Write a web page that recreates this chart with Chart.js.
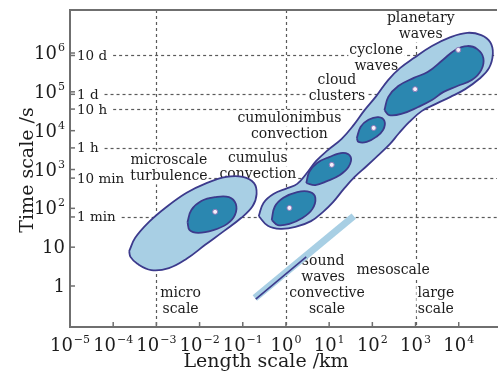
<!DOCTYPE html>
<html>
<head>
<meta charset="utf-8">
<script src="https://cdn.jsdelivr.net/npm/chart.js@4.4.1/dist/chart.umd.min.js"></script>
<style>
  html, body { margin: 0; padding: 0; background: #fff; }
  #wrap { width: 502px; height: 375px; }
</style>
</head>
<body>
<div id="wrap"><canvas id="c"></canvas></div>
<script>
// decades on each axis (powers of ten)
const lengthExps = [-5, -4, -3, -2, -1, 0, 1, 2, 3, 4]
const timeExps = [0, 1, 2, 3, 4, 5, 6]
const lengthRange = [-5, 4.886]   // log10 km
const timeRange = [-1.056, 7.108] // log10 s

// named time levels
const timeLabels = ['10 d', '1 d', '10 h', '1 h', '10 min', '1 min']
const timeSeconds = [864000, 86400, 36000, 3600, 600, 60]

// boundaries micro / convective / large scale (km)
const scaleDividers = [1e-3, 1, 1e3]

// region outlines, [log10 km, log10 s]
const microOuter = [
  [-3.63, 0.90], [-3.49, 1.24], [-3.17, 1.65], [-2.76, 2.04], [-2.30, 2.40], [-1.84, 2.65],
  [-1.38, 2.81], [-1.00, 2.81], [-0.74, 2.65], [-0.68, 2.37], [-0.77, 2.06], [-1.04, 1.75],
  [-1.43, 1.42], [-1.87, 1.06], [-2.30, 0.70], [-2.71, 0.46], [-3.12, 0.41], [-3.44, 0.57], [-3.60, 0.75],
]
const microCore = [
  [-2.28, 1.65], [-2.19, 1.96], [-1.96, 2.19], [-1.64, 2.29], [-1.32, 2.29], [-1.16, 2.11],
  [-1.18, 1.83], [-1.36, 1.60], [-1.68, 1.44], [-2.03, 1.37], [-2.23, 1.44],
]
const mesoOuter = [
  [-0.63, 1.80], [-0.52, 2.14], [-0.29, 2.37], [0.03, 2.52], [0.26, 2.63], [0.47, 2.89],
  [0.70, 3.22], [0.97, 3.50], [1.29, 3.79], [1.57, 4.15], [1.82, 4.53], [2.09, 4.89],
  [2.37, 5.31], [2.64, 5.61], [2.96, 5.87], [3.38, 6.18], [3.81, 6.41], [4.20, 6.52],
  [4.52, 6.46], [4.73, 6.28], [4.79, 5.98], [4.70, 5.61], [4.47, 5.33], [4.15, 5.07],
  [3.81, 4.87], [3.47, 4.69], [3.15, 4.51], [2.85, 4.22], [2.62, 3.94], [2.41, 3.66],
  [2.14, 3.37], [1.87, 3.09], [1.59, 2.81], [1.34, 2.50], [1.09, 2.16], [0.86, 1.91],
  [0.58, 1.67], [0.22, 1.52], [-0.13, 1.47], [-0.42, 1.55],
]
const cumulusCore = [
  [-0.33, 1.70], [-0.26, 2.04], [-0.06, 2.27], [0.26, 2.42], [0.56, 2.42], [0.68, 2.27],
  [0.61, 1.98], [0.38, 1.75], [0.08, 1.60], [-0.19, 1.57],
]
const convectionCore = [
  [0.47, 2.65], [0.54, 2.94], [0.72, 3.17], [1.00, 3.32], [1.32, 3.43], [1.50, 3.32],
  [1.45, 3.07], [1.25, 2.86], [0.95, 2.70], [0.68, 2.60],
]
const cumulonimbusCore = [
  [1.64, 3.81], [1.73, 4.10], [1.91, 4.28], [2.14, 4.35], [2.28, 4.25], [2.25, 4.02],
  [2.09, 3.84], [1.87, 3.71], [1.68, 3.71],
]
const synopticCore = [
  [2.28, 4.53], [2.37, 4.87], [2.60, 5.15], [2.96, 5.36], [3.28, 5.51], [3.63, 5.82],
  [3.92, 6.08], [4.20, 6.18], [4.43, 6.10], [4.57, 5.87], [4.52, 5.56], [4.31, 5.31],
  [3.97, 5.15], [3.65, 5.00], [3.38, 4.79], [3.06, 4.61], [2.67, 4.43], [2.39, 4.40],
]
const centres = [
  [-1.64, 1.91], [0.08, 2.01], [1.06, 3.12], [2.03, 4.07], [2.99, 5.07], [3.99, 6.08],
]
const soundBand = [[-0.72, -0.31], [1.57, 1.80]]
const soundEdge = [[-0.70, -0.34], [0.47, 0.75]]

// annotations: text lines and block centre [log10 km, log10 s]
const notes = [
  { lines: ['planetary', 'waves'], at: [3.12, 6.68] },
  { lines: ['cyclone', 'waves'], at: [2.09, 5.86] },
  { lines: ['cloud', 'clusters'], at: [1.18, 5.09] },
  { lines: ['cumulonimbus', 'convection'], at: [0.08, 4.11] },
  { lines: ['cumulus', 'convection'], at: [-0.65, 3.08] },
  { lines: ['microscale', 'turbulence'], at: [-2.71, 3.03] },
  { lines: ['micro', 'scale'], at: [-2.44, -0.39] },
  { lines: ['sound', 'waves'], at: [0.86, 0.44] },
  { lines: ['convective', 'scale'], at: [0.95, -0.40] },
  { lines: ['mesoscale'], at: [2.48, 0.41] },
  { lines: ['large', 'scale'], at: [3.47, -0.40] },
]

const SERIF = '"DejaVu Serif", serif'
const INK = '#1c1c1c'
const AXIS = '#6f6f6f'
const DASH = '#5a5a5a'
const LIGHT = '#a8cfe4'
const DARK = '#2b87b0'
const EDGE = '#3c3a8c'

const toPts = arr => arr.map(([lx, ly]) => ({ x: 10 ** lx, y: 10 ** ly }))
const closed = arr => toPts([...arr, arr[0]])

function region(data, color, order) {
  return {
    data: closed(data), backgroundColor: color, borderColor: EDGE, borderWidth: 1.8,
    fill: 'shape', tension: 0.4, pointRadius: 0, order,
  }
}

// "10" with a raised exponent; short forms 1 and 10 only when asked
function drawPower(ctx, exp, x, y, align, short) {
  const plain = short && (exp === 0 || exp === 1)
  const base = plain && exp === 0 ? '1' : '10'
  const sup = plain ? '' : String(exp).replace('-', '\u2212')
  ctx.font = `18px ${SERIF}`
  const wb = ctx.measureText(base).width
  ctx.font = `11px ${SERIF}`
  const ws = sup ? ctx.measureText(sup).width + 1 : 0
  const left = align === 'center' ? x - (wb + ws) / 2 : x - (wb + ws)
  ctx.textAlign = 'left'
  ctx.textBaseline = 'alphabetic'
  ctx.font = `18px ${SERIF}`
  ctx.fillText(base, left, y)
  if (sup) {
    ctx.font = `11px ${SERIF}`
    ctx.fillText(sup, left + wb + 1, y - 8)
  }
}

const backdrop = {
  id: 'backdrop',
  beforeDatasetsDraw(chart) {
    const { ctx, chartArea: a, scales: { x, y } } = chart
    ctx.save()
    ctx.strokeStyle = DASH
    ctx.lineWidth = 1.2
    ctx.setLineDash([3, 3])
    // vertical scale boundaries
    scaleDividers.forEach(km => {
      const px = Math.round(x.getPixelForValue(km)) + 0.5
      ctx.beginPath(); ctx.moveTo(px, a.top); ctx.lineTo(px, a.bottom); ctx.stroke()
    })
    // time levels
    ctx.font = `13.5px ${SERIF}`
    timeSeconds.forEach((s, i) => {
      const py = Math.round(y.getPixelForValue(s)) + 0.5
      const start = a.left + 7 + ctx.measureText(timeLabels[i]).width + 6
      ctx.beginPath(); ctx.moveTo(start, py); ctx.lineTo(a.right, py); ctx.stroke()
    })
    ctx.setLineDash([])
    ctx.fillStyle = INK
    ctx.textAlign = 'left'
    ctx.textBaseline = 'middle'
    timeSeconds.forEach((s, i) => {
      const py = y.getPixelForValue(s)
      ctx.fillText(timeLabels[i], a.left + 7, py + 1)
    })
    // annotations on white
    ctx.font = `14px ${SERIF}`
    ctx.textAlign = 'center'
    notes.forEach(n => {
      const cx = x.getPixelForValue(10 ** n.at[0])
      const cy = y.getPixelForValue(10 ** n.at[1])
      n.lines.forEach((t, i) => {
        const ly = cy + (i - (n.lines.length - 1) / 2) * 16
        const w = ctx.measureText(t).width
        ctx.fillStyle = '#fff'
        ctx.fillRect(cx - w / 2 - 1, ly - 8, w + 2, 16)
        ctx.fillStyle = INK
        ctx.fillText(t, cx, ly)
      })
    })
    ctx.restore()
  },
  afterDraw(chart) {
    const { ctx, chartArea: a, scales: { x, y } } = chart
    ctx.save()
    ctx.strokeStyle = AXIS
    ctx.lineWidth = 2
    ctx.beginPath(); ctx.moveTo(a.left, a.top); ctx.lineTo(a.right, a.top); ctx.stroke()
    ctx.lineWidth = 1.5
    lengthExps.forEach(e => {
      const px = x.getPixelForValue(10 ** e)
      ctx.beginPath(); ctx.moveTo(px, a.bottom); ctx.lineTo(px, a.bottom - 5); ctx.stroke()
    })
    timeExps.forEach(e => {
      const py = y.getPixelForValue(10 ** e)
      ctx.beginPath(); ctx.moveTo(a.left, py); ctx.lineTo(a.left + 5, py); ctx.stroke()
    })
    timeSeconds.forEach(s => {
      const py = y.getPixelForValue(s)
      ctx.beginPath(); ctx.moveTo(a.left, py); ctx.lineTo(a.left + 5, py); ctx.stroke()
    })
    ctx.fillStyle = INK
    lengthExps.forEach(e => drawPower(ctx, e, x.getPixelForValue(10 ** e), a.bottom + 24, 'center', false))
    timeExps.forEach(e => drawPower(ctx, e, a.left - 5, y.getPixelForValue(10 ** e) + 6, 'right', true))
    ctx.font = `19px ${SERIF}`
    ctx.textAlign = 'center'
    ctx.textBaseline = 'alphabetic'
    ctx.fillText('Length scale /km', 266, 367)
    ctx.translate(33, 170)
    ctx.rotate(-Math.PI / 2)
    ctx.fillText('Time scale /s', 0, 0)
    ctx.restore()
  },
}

new Chart(document.getElementById('c'), {
  type: 'line',
  data: {
    datasets: [
      region(microOuter, LIGHT, 10),
      region(mesoOuter, LIGHT, 10),
      { data: toPts(soundBand), borderColor: LIGHT, borderWidth: 7, pointRadius: 0, fill: false, order: 9 },
      { data: toPts(soundEdge), borderColor: EDGE, borderWidth: 1.6, pointRadius: 0, fill: false, order: 8 },
      region(microCore, DARK, 5),
      region(cumulusCore, DARK, 5),
      region(convectionCore, DARK, 5),
      region(cumulonimbusCore, DARK, 5),
      region(synopticCore, DARK, 5),
      {
        data: toPts(centres), showLine: false, pointRadius: 2.5, pointBackgroundColor: '#f6f0fa',
        pointBorderColor: '#8a78b8', pointBorderWidth: 1, order: 1,
      },
    ],
  },
  options: {
    responsive: true,
    maintainAspectRatio: false,
    animation: false,
    events: [],
    layout: { padding: { top: 10, right: 0, left: 0, bottom: 0 } },
    plugins: { legend: { display: false }, tooltip: { enabled: false } },
    scales: {
      x: {
        type: 'logarithmic', min: 10 ** lengthRange[0], max: 10 ** lengthRange[1],
        grid: { display: false }, ticks: { display: false },
        border: { display: true, color: AXIS, width: 2 },
        afterFit: s => { s.height = 48 },
      },
      y: {
        type: 'logarithmic', min: 10 ** timeRange[0], max: 10 ** timeRange[1],
        grid: { display: false }, ticks: { display: false },
        border: { display: true, color: AXIS, width: 2 },
        afterFit: s => { s.width = 70 },
      },
    },
  },
  plugins: [backdrop],
})
</script>
</body>
</html>
